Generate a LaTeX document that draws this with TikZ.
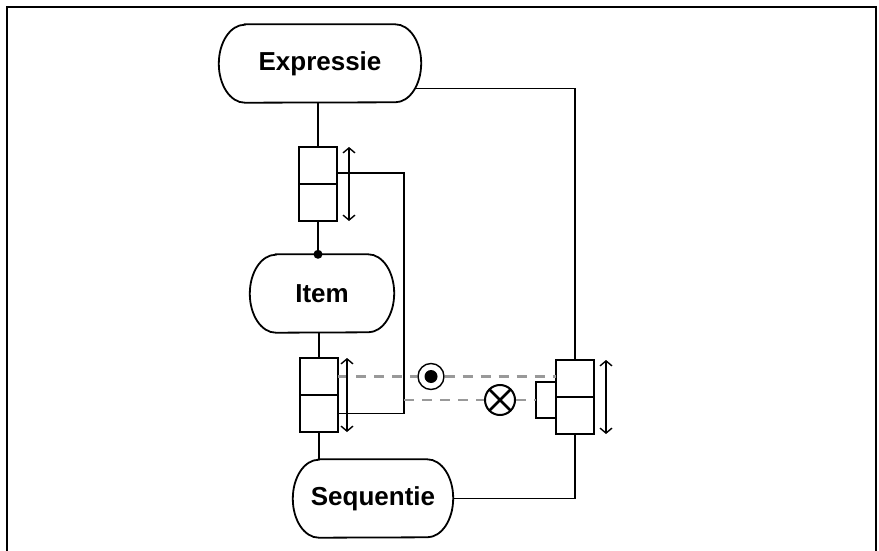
\documentclass[tikz,border=0pt]{standalone}
\usepackage{fontspec}
\setmainfont{Liberation Sans}
\usetikzlibrary{arrows.meta,positioning}
\begin{document}
\begin{tikzpicture}[x=1pt,y=-1pt,
  term/.style={rectangle, inner sep=0pt, minimum height=78pt, font=\fontsize{26}{30}\selectfont\bfseries,
    append after command={\pgfextra{\draw[line width=1.8pt]
      ([xshift=26pt]\tikzlastnode.north west) -- ([xshift=-26pt]\tikzlastnode.north east)
      arc[start angle=90, end angle=-90, x radius=26pt, y radius=39pt]
      -- ([xshift=26pt]\tikzlastnode.south west)
      arc[start angle=270, end angle=90, x radius=26pt, y radius=39pt] -- cycle;}}},
  slot/.style={rectangle, draw, line width=1.6pt, minimum width=38pt, minimum height=37pt,
    inner sep=0pt, outer sep=0pt},
  tab/.style={rectangle, draw, line width=1.6pt, minimum width=20pt, minimum height=36pt,
    inner sep=0pt, outer sep=0pt},
  wire/.style={line width=1.4pt},
  dbl/.style={line width=1.4pt, {Straight Barb[length=5pt,width=12pt]}-{Straight Barb[length=5pt,width=12pt]}},
  link/.style={line width=2.6pt, black!40, dash pattern=on 10pt off 8pt},
  ring/.style={circle, draw, line width=1.4pt, minimum size=26pt, inner sep=0pt,
    path picture={\fill (path picture bounding box.center) circle (6.5pt);}},
  cross/.style={circle, draw, line width=2pt, minimum size=30pt, inner sep=0pt,
    path picture={\draw[line width=2.6pt] (path picture bounding box.north west) -- (path picture bounding box.south east)
      (path picture bounding box.north east) -- (path picture bounding box.south west);}},
  dot/.style={circle, fill, inner sep=0pt, minimum size=9pt}]
\useasboundingbox (0,0) rectangle (879,551);
% frame
\draw[line width=2.5pt] (7,556) -- (7,7) -- (876,7) -- (876,556);
% terms
\node[term, minimum width=202pt] (expressie) at (320,63.5) {Expressie};
\node[term, minimum width=144pt] (item) at (322,293.5) {Item};
\node[term, minimum width=160pt] (sequentie) at (373,498.5) {Sequentie};
% slots
\node[slot] (b1t) at (318,165.5) {};
\node[slot, below=0pt of b1t] (b1b) {};
\node[slot] (b2t) at (319,376.5) {};
\node[slot, below=0pt of b2t] (b2b) {};
\node[slot] (b3t) at (575,378.5) {};
\node[slot, below=0pt of b3t] (b3b) {};
\node[tab, anchor=east] (tab) at ([yshift=-3pt]b3t.south west) {};
% markers
\node[ring] (ring) at (431,376.5) {};
\node[cross] (cross) at (500,400) {};
\coordinate (rail) at (404,173);
% wires
\draw[wire] (b1t.north) -- (b1t.north |- expressie.south);
\draw[wire] (b1b.south) -- (b1b.south |- item.north) node[dot] {};
\draw[wire] (b2t.north) -- (b2t.north |- item.south);
\draw[wire] (b2b.south) -- (b2b.south |- sequentie.north);
\draw[wire] (b1t.east |- rail) -- (rail) |- (b2b.east);
\draw[wire] (b3t.north) |- ([xshift=-6pt,yshift=-25pt]expressie.east);
\draw[wire] (b3b.south) |- (sequentie.east);
% dashed links
\draw[link] (b2t.east) -- (ring.west) (ring.east) -- (ring -| b3t.west);
\draw[link] (rail |- cross) -- (cross.west) (cross.east) -- (tab.west);
% travel arrows
\draw[dbl] ([xshift=12pt]b1t.north east) -- ([xshift=12pt]b1b.south east);
\draw[dbl] ([xshift=9pt]b2t.north east) -- ([xshift=9pt]b2b.south east);
\draw[dbl] ([xshift=12pt]b3t.north east) -- ([xshift=12pt]b3b.south east);
\end{tikzpicture}
\end{document}
